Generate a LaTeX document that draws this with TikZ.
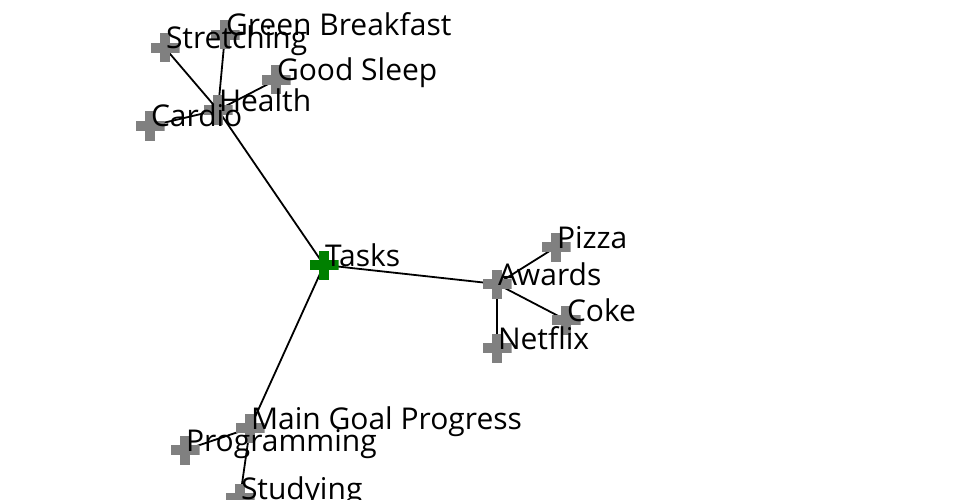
\documentclass[tikz,border=0pt]{standalone}
\usepackage{fontspec}
\setmainfont{Open Sans}
\usetikzlibrary{backgrounds}
\definecolor{crossgray}{HTML}{808080}
\definecolor{crossgreen}{HTML}{008000}
\tikzset{
  crossnode/.style={minimum size=29pt, inner sep=0pt, outer sep=0pt,
    path picture={
      \fill[#1] ([xshift=-4.9pt]path picture bounding box.south) rectangle ([xshift=4.9pt]path picture bounding box.north);
      \fill[#1] ([yshift=-4.9pt]path picture bounding box.west) rectangle ([yshift=4.9pt]path picture bounding box.east);
    }},
  crossnode/.default=crossgray,
  lbl/.style={anchor=base west, inner sep=0pt, outer sep=0pt, font=\fontsize{30}{32}\selectfont, text=black},
  link/.style={draw=black, line width=1.8pt}
}
\begin{document}
\begin{tikzpicture}[x=1pt,y=-1pt]
\useasboundingbox (0,0) rectangle (960,500);
% crosses
\node[crossnode=crossgreen] (tasks) at (324,265) {};
\node[crossnode] (health) at (218,110) {};
\node[crossnode] (stretch) at (165,48) {};
\node[crossnode] (green) at (225,35) {};
\node[crossnode] (sleep) at (276,80) {};
\node[crossnode] (cardio) at (150,126) {};
\node[crossnode] (awards) at (497,284) {};
\node[crossnode] (pizza) at (556,247) {};
\node[crossnode] (coke) at (566,320) {};
\node[crossnode] (netflix) at (497,348) {};
\node[crossnode] (goal) at (250,428) {};
\node[crossnode] (prog) at (185,450) {};
\node[crossnode] (study) at (240,498) {};
% links
\begin{scope}[on background layer]
\path[link] (tasks.center) -- (health.center);
\path[link] (tasks.center) -- (awards.center);
\path[link] (tasks.center) -- (goal.center);
\path[link] (health.center) -- (stretch.center);
\path[link] (health.center) -- (green.center);
\path[link] (health.center) -- (sleep.center);
\path[link] (health.center) -- (cardio.center);
\path[link] (awards.center) -- (pizza.center);
\path[link] (awards.center) -- (coke.center);
\path[link] (awards.center) -- (netflix.center);
\path[link] (goal.center) -- (prog.center);
\path[link] (goal.center) -- (study.center);
\end{scope}
% labels
\node[lbl] (tasks-l) at ([xshift=1pt,yshift=-1pt]tasks.center) {Tasks};
\node[lbl] (health-l) at ([xshift=1pt,yshift=-1pt]health.center) {Health};
\node[lbl] (stretch-l) at ([xshift=1pt,yshift=-1pt]stretch.center) {Stretching};
\node[lbl] (green-l) at ([xshift=1pt,yshift=-1pt]green.center) {Green Breakfast};
\node[lbl] (sleep-l) at ([xshift=1pt,yshift=-1pt]sleep.center) {Good Sleep};
\node[lbl] (cardio-l) at ([xshift=1pt,yshift=-1pt]cardio.center) {Cardio};
\node[lbl] (awards-l) at ([xshift=1pt,yshift=-1pt]awards.center) {Awards};
\node[lbl] (pizza-l) at ([xshift=1pt,yshift=-1pt]pizza.center) {Pizza};
\node[lbl] (coke-l) at ([xshift=1pt,yshift=-1pt]coke.center) {Coke};
\node[lbl] (netflix-l) at ([xshift=1pt,yshift=-1pt]netflix.center) {Netflix};
\node[lbl] (goal-l) at ([xshift=1pt,yshift=-1pt]goal.center) {Main Goal Progress};
\node[lbl] (prog-l) at ([xshift=1pt,yshift=-1pt]prog.center) {Programming};
\node[lbl] (study-l) at ([xshift=1pt,yshift=-1pt]study.center) {Studying};
\end{tikzpicture}
\end{document}
